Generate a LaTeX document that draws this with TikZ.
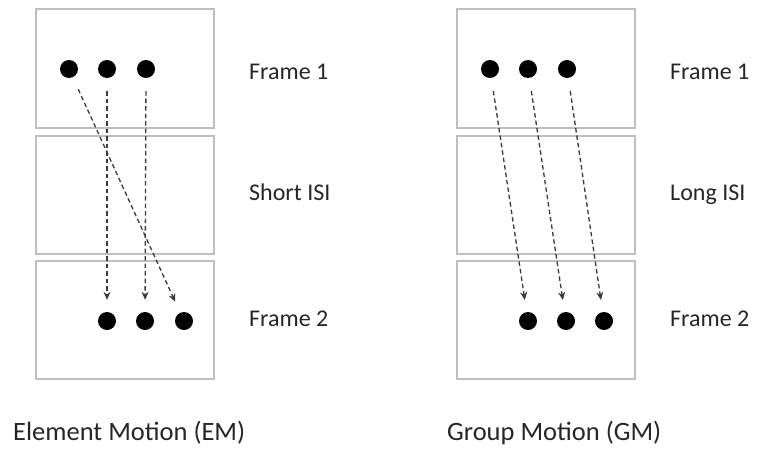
\documentclass[tikz,border=0pt]{standalone}
\usepackage{fontspec}
\setmainfont{Carlito}
\usetikzlibrary{arrows.meta}
\definecolor{boxgray}{HTML}{BFBFBF}
\definecolor{arrgray}{HTML}{3A3A3A}
\tikzset{
  framebox/.style={draw=boxgray, line width=1.6pt},
  dot/.style={circle, fill=black, inner sep=0pt, minimum size=18pt},
  motion/.style={draw=arrgray, line width=1.3pt, dash pattern=on 4.5pt off 3pt,
    -{Stealth[length=8pt,width=7pt]}, shorten <=13pt, shorten >=12pt},
  lbl/.style={anchor=base west, inner sep=0pt, font=\fontsize{24}{28}\selectfont, text=black!85},
  captext/.style={lbl, font=\fontsize{26.5}{30}\selectfont}
}
\begin{document}
\begin{tikzpicture}[x=1pt,y=-1pt]
\useasboundingbox (0,0) rectangle (775,449);
% left boxes
\draw[framebox] (36,9) rectangle (214,128);
\draw[framebox] (36,136) rectangle (214,254);
\draw[framebox] (36,261) rectangle (214,379);
% right boxes
\draw[framebox] (457,9) rectangle (635,128);
\draw[framebox] (457,136) rectangle (635,254);
\draw[framebox] (457,261) rectangle (635,379);
% left dots
\node[dot] (la1) at (69,69) {};
\node[dot] (la2) at (107,69) {};
\node[dot] (la3) at (146,69) {};
\node[dot] (lb1) at (107,321) {};
\node[dot] (lb2) at (145,321) {};
\node[dot] (lb3) at (184,321) {};
% right dots
\node[dot] (ra1) at (490,69) {};
\node[dot] (ra2) at (528,69) {};
\node[dot] (ra3) at (567,69) {};
\node[dot] (rb1) at (528,321) {};
\node[dot] (rb2) at (566,321) {};
\node[dot] (rb3) at (604,321) {};
% arrows
\draw[motion] (la1) -- (lb3);
\draw[motion] (la2) -- (lb1);
\draw[motion] (la3) -- (lb2);
\draw[motion] (ra1) -- (rb1);
\draw[motion] (ra2) -- (rb2);
\draw[motion] (ra3) -- (rb3);
% labels
\node[lbl] (lf1) at (249,80) {Frame 1};
\node[lbl] (lisi) at (249,200) {Short ISI};
\node[lbl] (lf2) at (249,326) {Frame 2};
\node[lbl] (rf1) at (670,80) {Frame 1};
\node[lbl] (risi) at (670,200) {Long ISI};
\node[lbl] (rf2) at (670,326) {Frame 2};
\node[captext] (lcap) at (13,440) {Element Motion (EM)};
\node[captext] (rcap) at (447,440) {Group Motion (GM)};
\end{tikzpicture}
\end{document}
